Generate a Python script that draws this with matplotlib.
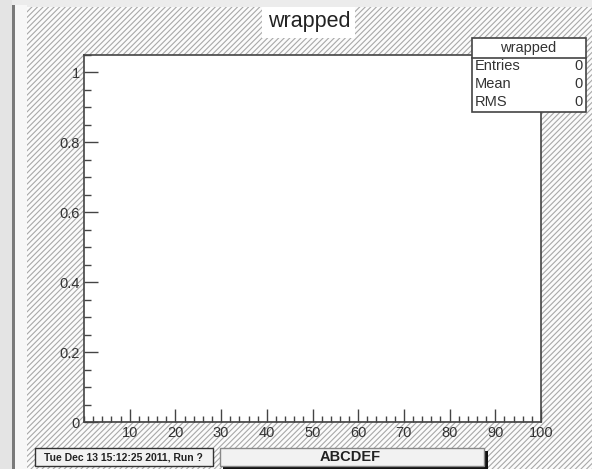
import numpy as np
import matplotlib
matplotlib.use('Agg')
import matplotlib.pyplot as plt
from matplotlib.patches import Rectangle

# empty histogram "wrapped", 100 bins from 0 to 100
bin_edges = np.arange(0, 101, 1)
bin_counts = np.zeros(100)

stat_names = ['Entries', 'Mean', 'RMS']
stat_values = ['0', '0', '0']

y_ticks = [0, 0.2, 0.4, 0.6, 0.8, 1]
y_labels = ['0', '0.2', '0.4', '0.6', '0.8', '1']
x_ticks = [10, 20, 30, 40, 50, 60, 70, 80, 90, 100]
x_labels = ['10', '20', '30', '40', '50', '60', '70', '80', '90', '100']

hist_title = 'wrapped'
date_text = 'Tue Dec 13 15:12:25 2011, Run ?'
footer_text = 'ABCDEF'

W, H = 592, 469
plt.rcParams['font.family'] = ['Liberation Sans', 'DejaVu Sans']
plt.rcParams['hatch.linewidth'] = 0.8


def px(x0, y0, x1, y1):
    # pixel box (top-left origin) -> figure fraction rect
    return (x0 / W, 1 - y1 / H), (x1 - x0) / W, (y1 - y0) / H


def box(x0, y0, x1, y1, **kw):
    xy, w, h = px(x0, y0, x1, y1)
    r = Rectangle(xy, w, h, transform=fig.transFigure, **kw)
    fig.patches.append(r)
    return r


def ftext(x, y, s, **kw):
    fig.text(x / W, 1 - y / H, s, **kw)


fig = plt.figure(figsize=(W / 100, H / 100), dpi=100)
fig.patch.set_facecolor('#ececec')

# window edge on the left
box(0, 0, 12, H, facecolor='#e4e4e4', linewidth=0)
box(12, 5, 15, H, facecolor='#7a7a7a', linewidth=0)
box(15, 5, 27, H, facecolor='#f7f7f7', linewidth=0)

# hatched canvas
box(27, 7, W, H, facecolor='#fbfbfb', edgecolor='#a8a8a8', hatch='//////', linewidth=0)

# title box
box(262, 7, 355, 38, facecolor='white', linewidth=0)
ftext(309, 22, hist_title, fontsize=15.5, ha='center', va='center', color='#222222')

# frame
ax = fig.add_axes([84 / W, 1 - 422 / H, (541 - 84) / W, (422 - 55) / H])
ax.set_zorder(3)
ax.set_facecolor('white')
ax.stairs(bin_counts, bin_edges, color='#333333', linewidth=1)
ax.set_xlim(0, 100)
ax.set_ylim(0, 1.05)
for s in ax.spines.values():
    s.set_color('#444444')
    s.set_linewidth(1.2)

ax.set_xticks(x_ticks)
ax.set_xticklabels(x_labels)
ax.set_xticks(np.arange(0, 101, 2), minor=True)
ax.set_yticks(y_ticks)
ax.set_yticklabels(y_labels)
ax.set_yticks(np.arange(0, 1.051, 0.05), minor=True)
ax.tick_params(axis='both', which='both', direction='in', color='#444444',
               labelcolor='#333333', labelsize=10.5)
ax.tick_params(axis='x', which='major', length=9.5, width=1, pad=3)
ax.tick_params(axis='x', which='minor', length=4.5, width=1)
ax.tick_params(axis='y', which='major', length=10, width=1, pad=3)
ax.tick_params(axis='y', which='minor', length=5, width=1)

# stats box
box(472, 38, 586, 112, facecolor='white', edgecolor='#444444', linewidth=1.2, zorder=5)
fig.add_artist(plt.Line2D([472 / W, 586 / W], [1 - 58 / H, 1 - 58 / H],
                          color='#444444', linewidth=1.2, zorder=6))
ftext(528, 47.5, hist_title, fontsize=10.5, ha='center', va='center', color='#333333', zorder=7)
for i, (name, val) in enumerate(zip(stat_names, stat_values)):
    yy = 65.5 + i * 18.5
    ftext(475, yy, name, fontsize=10.5, ha='left', va='center', color='#333333', zorder=7)
    ftext(583, yy, val, fontsize=10.5, ha='right', va='center', color='#333333', zorder=7)

# date box
box(35, 448, 213, 466, facecolor='#f2f2f2', edgecolor='#333333', linewidth=1)
ftext(123, 457, date_text, fontsize=7.5, fontweight='bold', ha='center', va='center',
      color='#222222')

# footer label with shadow
box(223, 451, 488, 469, facecolor='#111111', linewidth=0)
box(220, 448, 484, 466, facecolor='#f2f2f2', edgecolor='#888888', linewidth=1)
ftext(350, 457, footer_text, fontsize=10.5, fontweight='bold', ha='center', va='center',
      color='#222222')

fig.savefig('out.png', dpi=100)
